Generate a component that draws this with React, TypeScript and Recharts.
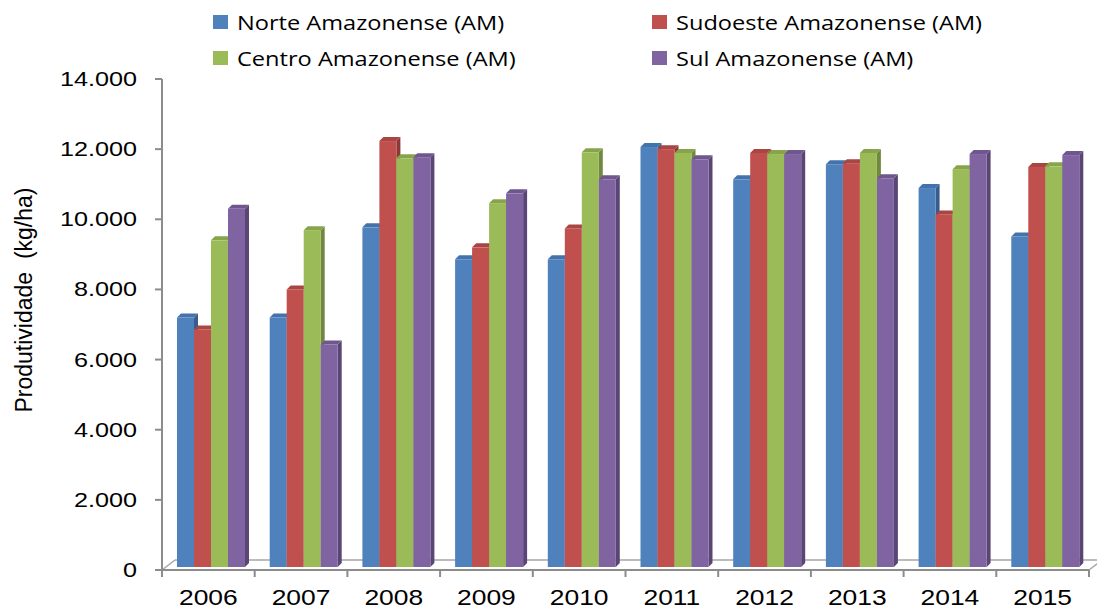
import { BarChart, Bar, XAxis, YAxis } from 'recharts'

const years = ['2006', '2007', '2008', '2009', '2010', '2011', '2012', '2013', '2014', '2015']
const norte = [7200, 7200, 9770, 8860, 8860, 12060, 11140, 11570, 10890, 9510]
const sudoeste = [6860, 8000, 12230, 9200, 9740, 12000, 11890, 11600, 10140, 11490]
const centro = [9400, 9690, 11740, 10460, 11910, 11890, 11860, 11890, 11430, 11510]
const sul = [10300, 6430, 11770, 10740, 11140, 11710, 11860, 11170, 11860, 11830]
const yTicks = [0, 2000, 4000, 6000, 8000, 10000, 12000, 14000]

const seriesNames = ['Norte Amazonense (AM)', 'Sudoeste Amazonense (AM)', 'Centro Amazonense (AM)', 'Sul Amazonense (AM)']

const data = years.map((year, i) => ({
  year,
  norte: norte[i],
  sudoeste: sudoeste[i],
  centro: centro[i],
  sul: sul[i],
}))

// front / top / side shades for the fake 3D columns
const palette = [
  { front: '#4F81BD', top: '#4473AB', side: '#385D8A' },
  { front: '#C0504D', top: '#A94543', side: '#8C3836' },
  { front: '#9BBB59', top: '#87A44B', side: '#71893F' },
  { front: '#8064A2', top: '#6F578E', side: '#5A4674' },
]
const keys = ['norte', 'sudoeste', 'centro', 'sul']

const W = 1097
const H = 610
const PLOT_LEFT = 162
const PLOT_RIGHT = 1089
const PLOT_TOP = 79
const PLOT_BOTTOM = 570
const BAND = (PLOT_RIGHT - PLOT_LEFT) / years.length
const DEPTH = 4
const FONT = 'Liberation Sans, Arial, sans-serif'
const AXIS = '#8C8C8C'

const fmt = (v: number) => (v === 0 ? '0' : `${Math.floor(v / 1000)}.${String(v % 1000).padStart(3, '0')}`)

function column(idx: number) {
  const c = palette[idx]
  return (props: any) => {
    const { x, y, width, height } = props
    if (height == null || height <= 0) return <g />
    const bx = x + 3
    const h = height - 3
    const d = DEPTH
    return (
      <g>
        <polygon
          points={`${bx + width},${y} ${bx + width + d},${y - d} ${bx + width + d},${y + h - d} ${bx + width},${y + h}`}
          fill={c.side}
        />
        <polygon
          points={`${bx},${y} ${bx + d},${y - d} ${bx + width + d},${y - d} ${bx + width},${y}`}
          fill={c.top}
        />
        <rect x={bx} y={y} width={width} height={h} fill={c.front} />
      </g>
    )
  }
}

function YTick({ x, y, payload }: any) {
  return (
    <g transform={`translate(${x},${y})`}>
      <text x={0} y={0} dy={7} textAnchor="end" fontSize={21} fontFamily={FONT} fill="#000"
        transform="scale(1.2,1)">
        {fmt(payload.value)}
      </text>
    </g>
  )
}

function XTick({ x, payload, index }: any) {
  const left = x - BAND / 2
  return (
    <g>
      <line x1={left} y1={PLOT_BOTTOM} x2={left} y2={PLOT_BOTTOM + 7} stroke={AXIS} strokeWidth={2} />
      {index === years.length - 1 && (
        <line x1={x + BAND / 2} y1={PLOT_BOTTOM} x2={x + BAND / 2} y2={PLOT_BOTTOM + 7} stroke={AXIS} strokeWidth={2} />
      )}
      <g transform={`translate(${x},${PLOT_BOTTOM + 35})`}>
        <text x={0} y={0} textAnchor="middle" fontSize={22} fontFamily={FONT} fill="#000"
          transform="scale(1.2,1)">
          {payload.value}
        </text>
      </g>
    </g>
  )
}

function LegendBlock() {
  const spots = [
    { left: 213, top: 8 },
    { left: 652, top: 8 },
    { left: 213, top: 44 },
    { left: 652, top: 44 },
  ]
  return (
    <>
      {seriesNames.map((name, i) => (
        <div key={name} style={{ position: 'absolute', left: spots[i].left, top: spots[i].top, display: 'flex', alignItems: 'center', height: 28 }}>
          <div style={{ width: 15, height: 14, background: palette[i].front, marginRight: 9 }} />
          <span style={{ fontFamily: 'Open Sans, sans-serif', fontSize: 20.5, color: '#000', display: 'inline-block', transform: 'scaleX(1.15)', transformOrigin: 'left center', whiteSpace: 'nowrap' }}>
            {name}
          </span>
        </div>
      ))}
    </>
  )
}

export default function App() {
  return (
    <div style={{ position: 'absolute', left: 0, top: 0, width: W, height: H, background: '#fff', overflow: 'hidden' }}>
      {/* floor of the 3D plot, behind the columns */}
      <svg width={W} height={H} style={{ position: 'absolute', left: 0, top: 0 }}>
        <line x1={PLOT_LEFT + 13} y1={PLOT_BOTTOM - 10} x2={W} y2={PLOT_BOTTOM - 10} stroke="#A6A6A6" strokeWidth={1.5} />
        <line x1={PLOT_LEFT} y1={PLOT_BOTTOM} x2={PLOT_LEFT + 13} y2={PLOT_BOTTOM - 10} stroke="#A6A6A6" strokeWidth={1.5} />
        <line x1={PLOT_RIGHT} y1={PLOT_BOTTOM} x2={PLOT_RIGHT + 13} y2={PLOT_BOTTOM - 10} stroke="#A6A6A6" strokeWidth={1.5} />
        <line x1={PLOT_LEFT - 7} y1={PLOT_BOTTOM} x2={PLOT_LEFT} y2={PLOT_BOTTOM} stroke={AXIS} strokeWidth={2} />
      </svg>
      <div style={{ position: 'absolute', left: 0, top: 0 }}>
        <BarChart
          width={W}
          height={H}
          data={data}
          margin={{ top: PLOT_TOP, right: W - PLOT_RIGHT, bottom: 0, left: PLOT_LEFT - 80 }}
          barGap={0}
          barSize={17}
        >
          <XAxis
            dataKey="year"
            height={H - PLOT_BOTTOM}
            axisLine={{ stroke: AXIS, strokeWidth: 2 }}
            tickLine={false}
            tick={<XTick />}
            interval={0}
          />
          <YAxis
            width={80}
            domain={[0, 14000]}
            ticks={yTicks}
            interval={0}
            axisLine={{ stroke: AXIS, strokeWidth: 2 }}
            tickLine={{ stroke: AXIS, strokeWidth: 2 }}
            tickSize={7}
            tickMargin={18}
            tick={<YTick />}
          />
          {keys.map((k, i) => (
            <Bar key={k} dataKey={k} name={seriesNames[i]} fill={palette[i].front} shape={column(i)} isAnimationActive={false} />
          ))}
        </BarChart>
      </div>
      <LegendBlock />
      <div style={{ position: 'absolute', left: 24, top: 300, width: 0, height: 0 }}>
        <div style={{ position: 'absolute', left: 0, top: 0, transform: 'translate(-50%,-50%) rotate(-90deg)', fontFamily: FONT, fontSize: 23, whiteSpace: 'pre', color: '#000' }}>
          {'Produtividade  (kg/ha)'}
        </div>
      </div>
    </div>
  )
}
